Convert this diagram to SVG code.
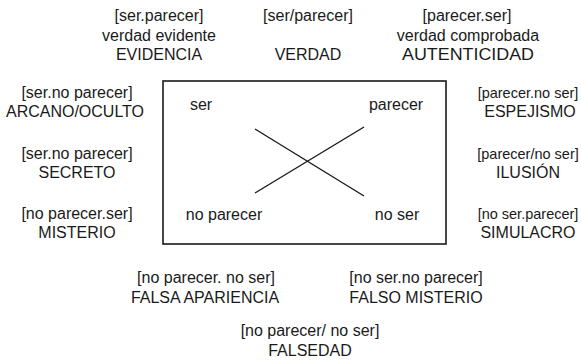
<svg xmlns="http://www.w3.org/2000/svg" width="581" height="363" viewBox="0 0 581 363">
<style>
text{font-family:"Liberation Sans",Arial,sans-serif;font-size:16px;fill:#1a1a1a;text-anchor:middle}
text.rb{font-size:14.5px}
.box{fill:none;stroke:#1a1a1a;stroke-width:1.6}
.ln{stroke:#1a1a1a;stroke-width:1.4}
</style>
<rect width="581" height="363" fill="#fff"/>
<g id="frame"><rect class="box" x="163" y="81" width="283" height="163"/></g>
<g id="connectors">
<line class="ln" x1="255" y1="129" x2="364" y2="196"/>
<line class="ln" x1="255" y1="193" x2="364" y2="127"/>
</g>
<g id="ser"><text x="201" y="110">ser</text></g>
<g id="parecer"><text x="396" y="110">parecer</text></g>
<g id="noparecer"><text x="224" y="220">no parecer</text></g>
<g id="noser"><text x="397" y="220">no ser</text></g>
<g id="evidencia"><text x="159" y="21">[ser.parecer]</text><text x="159" y="41">verdad evidente</text><text x="159" y="60">EVIDENCIA</text></g>
<g id="verdad"><text x="308" y="21">[ser/parecer]</text><text x="308" y="60">VERDAD</text></g>
<g id="autenticidad"><text x="467" y="21">[parecer.ser]</text><text x="468" y="41">verdad comprobada</text><text x="468" y="60" textLength="132" lengthAdjust="spacingAndGlyphs">AUTENTICIDAD</text></g>
<g id="arcano"><text x="77" y="98">[ser.no parecer]</text><text x="75" y="117">ARCANO/OCULTO</text></g>
<g id="secreto"><text x="77" y="159">[ser.no parecer]</text><text x="77" y="178">SECRETO</text></g>
<g id="misterio"><text x="77" y="219">[no parecer.ser]</text><text x="77" y="238">MISTERIO</text></g>
<g id="espejismo"><text class="rb" x="528" y="98">[parecer.no ser]</text><text x="530" y="117">ESPEJISMO</text></g>
<g id="ilusion"><text class="rb" x="528" y="159">[parecer/no ser]</text><text x="528" y="178">ILUSIÓN</text></g>
<g id="simulacro"><text class="rb" x="528" y="219">[no ser.parecer]</text><text x="528" y="238">SIMULACRO</text></g>
<g id="falsaapariencia"><text x="206" y="283">[no parecer. no ser]</text><text x="205" y="303">FALSA APARIENCIA</text></g>
<g id="falsomisterio"><text x="416" y="283">[no ser.no parecer]</text><text x="416" y="303">FALSO MISTERIO</text></g>
<g id="falsedad"><text x="310" y="336">[no parecer/ no ser]</text><text x="310" y="356">FALSEDAD</text></g>
</svg>
